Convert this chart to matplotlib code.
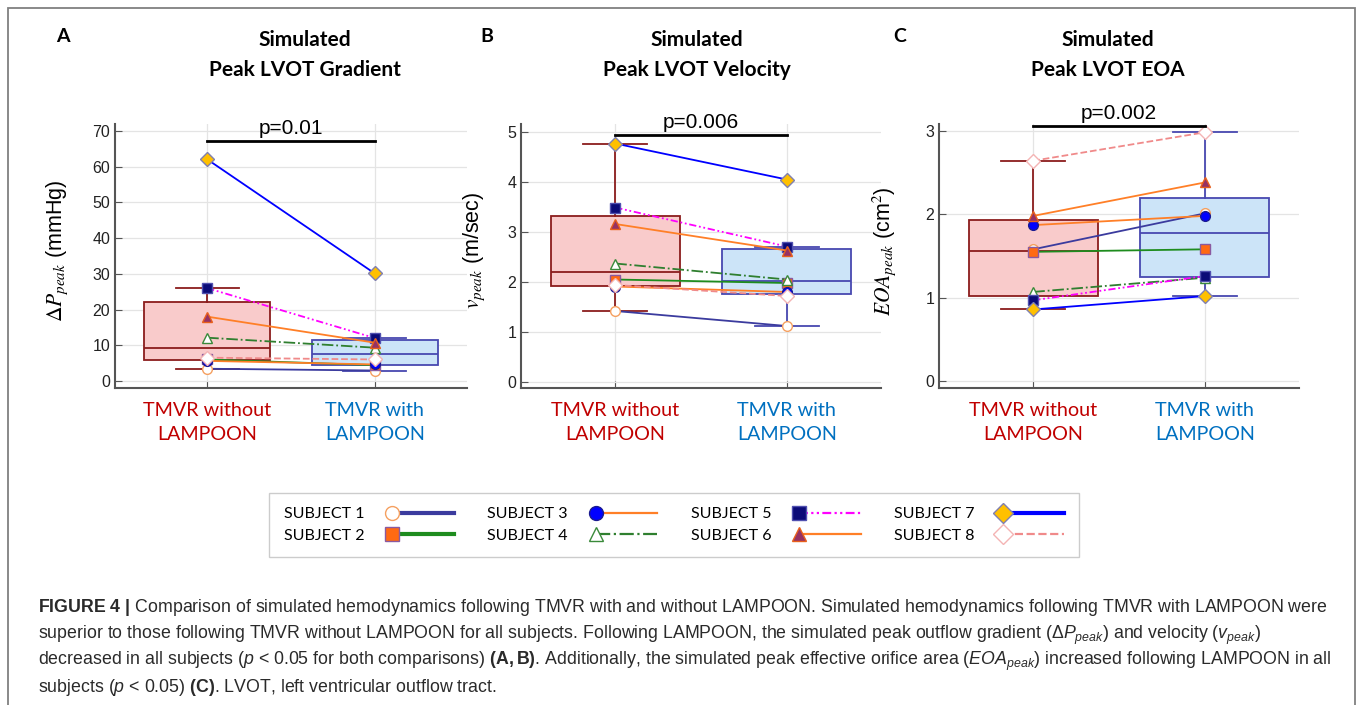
import numpy as np
import matplotlib
matplotlib.use("Agg")
from matplotlib import pyplot as plt
from matplotlib import font_manager
from matplotlib.lines import Line2D
from matplotlib.patches import Rectangle
from matplotlib.legend_handler import HandlerLine2DCompound

# data
subjects = ["SUBJECT 1", "SUBJECT 2", "SUBJECT 3", "SUBJECT 4",
            "SUBJECT 5", "SUBJECT 6", "SUBJECT 7", "SUBJECT 8"]
groups = ["TMVR without\nLAMPOON", "TMVR with\nLAMPOON"]

grad_without = [3.4, 6.0, 5.6, 12.1, 26.0, 18.0, 62.1, 6.5]
grad_with = [2.9, 4.4, 4.6, 9.3, 12.0, 10.7, 30.1, 6.0]
vel_without = [1.41, 2.04, 1.90, 2.36, 3.48, 3.15, 4.76, 1.93]
vel_with = [1.11, 1.97, 1.79, 2.04, 2.70, 2.62, 4.04, 1.71]
eoa_without = [1.58, 1.55, 1.87, 1.07, 0.97, 1.98, 0.86, 2.64]
eoa_with = [2.01, 1.58, 1.98, 1.24, 1.26, 2.38, 1.02, 2.98]

p_values = ["p=0.01", "p=0.006", "p=0.002"]
titles = ["Simulated\nPeak LVOT Gradient", "Simulated\nPeak LVOT Velocity",
          "Simulated\nPeak LVOT EOA"]
ylabels = [r"$\Delta P_{peak}$ (mmHg)", r"$v_{peak}$ (m/sec)",
           r"$EOA_{peak}$ (cm$^2$)"]
letters = ["A", "B", "C"]

# styles
line_colors = ["#3b3b9e", "#1e8c1e", "#ff7f27", "#2f7f2f",
               "#ff00ff", "#ff7f27", "#0000ff", "#f08a8a"]
line_styles = ["-", "-", "-", "-.", (0, (4, 1.5, 1, 1.5, 1, 1.5)), "-", "-", "--"]
markers = ["o", "s", "o", "^", "s", "^", "D", "D"]
face_colors = ["white", "#ff6a13", "#0000ff", "white",
               "#0b0b78", "#963264", "#ffc000", "white"]
edge_colors = ["#f5a060", "#8a5aa0", "#1a1a90", "#3a8a3a",
               "#5050b0", "#e8601c", "#8080b0", "#f4b4b4"]
legend_lw = [3, 3, 1.6, 1.6, 1.6, 1.6, 3, 1.6]

installed = {f.name for f in font_manager.fontManager.ttflist}
ui_font = "Lato" if "Lato" in installed else "DejaVu Sans"
cap_font = "Liberation Sans Narrow" if "Liberation Sans Narrow" in installed else "Liberation Sans"

plt.rcParams["font.family"] = ["Liberation Sans", "DejaVu Sans"]
plt.rcParams["mathtext.fontset"] = "custom"
plt.rcParams["mathtext.rm"] = cap_font
plt.rcParams["mathtext.it"] = cap_font + ":italic"
plt.rcParams["mathtext.bf"] = cap_font + ":bold"


def hazen_stats(values):
    d = np.asarray(values)
    q1, med, q3 = np.percentile(d, [25, 50, 75], method="hazen")
    iqr = q3 - q1
    lo = d[d >= q1 - 1.5 * iqr].min()
    hi = d[d <= q3 + 1.5 * iqr].max()
    return dict(med=med, q1=q1, q3=q3, whislo=lo, whishi=hi, fliers=[])


class LeftMarkerHandler(HandlerLine2DCompound):
    # marker sits at the left end of the legend line
    def get_xdata(self, legend, xdescent, ydescent, width, height, fontsize):
        xdata = np.array([-xdescent + 4, -xdescent + width])
        return xdata, np.array([-xdescent + 4])


W, H = 1357, 705
fig = plt.figure(figsize=(W / 100, H / 100), dpi=100)

panels = [(grad_without, grad_with), (vel_without, vel_with), (eoa_without, eoa_with)]
ax_left = [115, 521, 939]
ax_width = [352, 360, 360]
ylims = [(-2, 72), (-0.13, 5.15), (-0.08, 3.08)]
yticks = [np.arange(0, 71, 10), np.arange(0, 6, 1), np.arange(0, 4, 1)]
bar_y = [67.2, 4.93, 3.06]
label_x = [-0.128, -0.094, -0.114]
title_x = [305, 697, 1108]
letter_x = [63, 487, 900]

box_face = ["#f9cbcb", "#cce4f8"]
box_edge = ["#8b1c1c", "#4848b0"]
tick_colors = ["#c00000", "#0070c0"]

for k, (without, with_) in enumerate(panels):
    ax = fig.add_axes([ax_left[k] / W, 1 - 388 / H, ax_width[k] / W, 264 / H])
    stats = [hazen_stats(without), hazen_stats(with_)]
    bp = ax.bxp(stats, positions=[1, 2], widths=0.75, patch_artist=True,
                showfliers=False, capwidths=0.375)
    for j in range(2):
        bp["boxes"][j].set(facecolor=box_face[j], edgecolor=box_edge[j], linewidth=1.3)
        bp["medians"][j].set(color=box_edge[j], linewidth=1.3)
        for w in bp["whiskers"][2 * j:2 * j + 2] + bp["caps"][2 * j:2 * j + 2]:
            w.set(color=box_edge[j], linewidth=1.3)

    for i in range(len(subjects)):
        ax.plot([1, 2], [without[i], with_[i]], color=line_colors[i],
                ls=line_styles[i], lw=1.3, marker=markers[i], ms=7,
                mfc=face_colors[i], mec=edge_colors[i], mew=1.0, zorder=4)

    ax.plot([1, 2], [bar_y[k], bar_y[k]], color="black", lw=2, clip_on=False, zorder=5)
    ax.annotate(p_values[k], xy=(1.5, bar_y[k]), xytext=(0, 2),
                textcoords="offset points", ha="center", va="bottom",
                fontsize=15, annotation_clip=False)

    ax.set_xlim(0.45, 2.55)
    ax.set_ylim(*ylims[k])
    ax.set_yticks(yticks[k])
    ax.set_xticks([1, 2])
    ax.set_xticklabels(groups, family=ui_font, fontsize=14.2, linespacing=1.5)
    for lbl, c in zip(ax.get_xticklabels(), tick_colors):
        lbl.set_color(c)
    ax.tick_params(axis="both", direction="in", length=5, color="#555555")
    ax.tick_params(axis="y", labelsize=11.5, labelcolor="#222222")
    ax.tick_params(axis="x", pad=10)
    ax.grid(True, color="#e4e4e4", lw=0.9)
    ax.set_axisbelow(True)
    for s in ["top", "right"]:
        ax.spines[s].set_visible(False)
    for s in ["left", "bottom"]:
        ax.spines[s].set_color("#555555")
        ax.spines[s].set_linewidth(1.5)

    ax.set_ylabel(ylabels[k], fontsize=15.5, math_fontfamily="stix")
    ax.yaxis.set_label_coords(label_x[k], 0.52)

    fig.text(title_x[k] / W, 1 - 55 / H, titles[k], ha="center", va="center",
             family=ui_font, fontweight="bold", fontsize=15, linespacing=1.6)
    fig.text(letter_x[k] / W, 1 - 37 / H, letters[k], ha="center", va="center",
             family=ui_font, fontweight="bold", fontsize=14)

# legend
handles = [Line2D([], [], color=line_colors[i], ls=line_styles[i], lw=legend_lw[i],
                  marker=markers[i], ms=10, mfc=face_colors[i], mec=edge_colors[i])
           for i in range(len(subjects))]
leg = fig.legend(handles, subjects, ncol=4, loc="center",
                 bbox_to_anchor=(674 / W, 1 - 525 / H), markerfirst=False,
                 handler_map={Line2D: LeftMarkerHandler()},
                 prop={"family": ui_font, "size": 11.5}, handlelength=4.2,
                 handletextpad=1.4, columnspacing=2.1, labelspacing=0.45,
                 frameon=True, fancybox=False, edgecolor="#c0c0c0",
                 borderpad=0.9)
leg.get_frame().set_linewidth(1.0)

# figure frame
fig.patches.append(Rectangle((8 / W, -0.05), 1347 / W, 1 - 8 / H + 0.05,
                             transform=fig.transFigure, fill=False,
                             edgecolor="#808080", lw=1.3))

# caption
caption = [
    r"$\mathbf{FIGURE\ 4\ |}$ Comparison of simulated hemodynamics following TMVR with and without LAMPOON. Simulated hemodynamics following TMVR with LAMPOON were",
    r"superior to those following TMVR without LAMPOON for all subjects. Following LAMPOON, the simulated peak outflow gradient ($\Delta P_{peak}$) and velocity ($v_{peak}$)",
    r"decreased in all subjects ($p$ < 0.05 for both comparisons) $\mathbf{(A,B)}$. Additionally, the simulated peak effective orifice area ($EOA_{peak}$) increased following LAMPOON in all",
    r"subjects ($p$ < 0.05) $\mathbf{(C)}$. LVOT, left ventricular outflow tract.",
]
cap_y = [608, 635, 661, 688]
for line, y in zip(caption, cap_y):
    fig.text(38 / W, 1 - y / H, line, ha="left", va="center",
             family=cap_font, fontsize=12.8, color="#2a2a2a")

fig.savefig("out.png", dpi=100)
